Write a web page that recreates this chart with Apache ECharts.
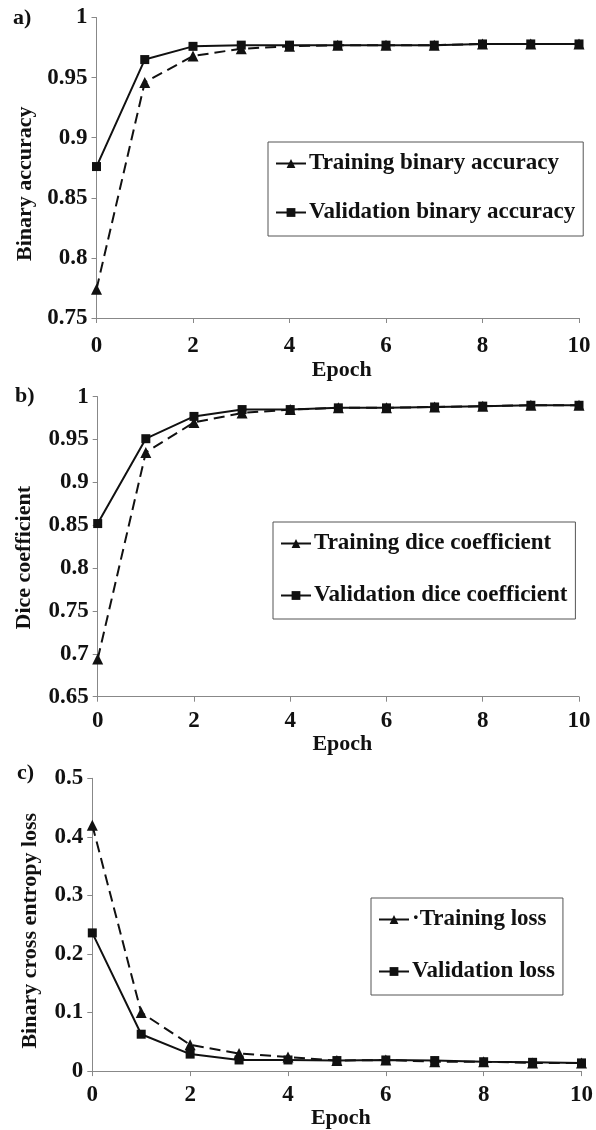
<!DOCTYPE html>
<html>
<head>
<meta charset="utf-8">
<script src="https://cdn.jsdelivr.net/npm/echarts@6/dist/echarts.min.js"></script>
<style>
html,body{margin:0;padding:0;background:#fff;}
#chart{width:596px;height:1130px;}
</style>
</head>
<body>
<div id="chart"></div>
<script>
// ---- data ----
var epochs = [0, 1, 2, 3, 4, 5, 6, 7, 8, 9, 10];
var accTrain = [0.774, 0.946, 0.968, 0.974, 0.976, 0.977, 0.977, 0.977, 0.978, 0.978, 0.978];
var accVal   = [0.876, 0.965, 0.976, 0.977, 0.977, 0.977, 0.977, 0.977, 0.978, 0.978, 0.978];
var diceTrain = [0.694, 0.935, 0.970, 0.981, 0.985, 0.987, 0.987, 0.988, 0.989, 0.990, 0.990];
var diceVal   = [0.852, 0.951, 0.977, 0.985, 0.985, 0.987, 0.987, 0.988, 0.989, 0.990, 0.990];
var lossTrain = [0.420, 0.100, 0.045, 0.030, 0.024, 0.018, 0.019, 0.016, 0.016, 0.014, 0.014];
var lossVal   = [0.236, 0.063, 0.029, 0.019, 0.019, 0.018, 0.019, 0.018, 0.016, 0.015, 0.014];

var seriesNames = {
  a: ['Training binary accuracy', 'Validation binary accuracy'],
  b: ['Training dice coefficient', 'Validation dice coefficient'],
  c: ['\u00b7Training loss', 'Validation loss']
};
var yNames = ['Binary accuracy', 'Dice coefficient', 'Binary cross entropy loss'];
var xName = 'Epoch';
var panelLabels = ['a)', 'b)', 'c)'];

function pairs(ys) { return epochs.map(function (e, i) { return [e, ys[i]]; }); }

var FONT = "'Liberation Serif', 'Times New Roman', serif";
var INK = '#111';

var grids = [
  {left: 96.5, top: 17.5, width: 482.5, height: 300.5},
  {left: 97.7, top: 396.7, width: 481.3, height: 300},
  {left: 92.3, top: 778.3, width: 489.4, height: 295.7}
];
var yRanges = [[0.75, 1, 0.05], [0.65, 1, 0.05], [0, 0.5, 0.1]];
var yNameGaps = [59, 62, 51];
var yNameShift = [32, 22, 12];
var xLabelMargins = [17, 13, 12];
var xNameGaps = [25, 29, 28];

var xAxes = [], yAxes = [];
for (var i = 0; i < 3; i++) {
  xAxes.push({
    type: 'value', gridIndex: i, min: 0, max: 10, interval: 2,
    name: xName, nameLocation: 'middle', nameGap: xNameGaps[i],
    nameTextStyle: {fontFamily: FONT, fontWeight: 'bold', fontSize: 22, color: INK, padding: [0, 0, 0, 8]},
    axisLine: {show: true, lineStyle: {color: '#888', width: 1}},
    axisTick: {show: true, inside: false, length: 5, lineStyle: {color: '#888'}},
    axisLabel: {fontFamily: FONT, fontWeight: 'bold', fontSize: 23, color: INK, margin: xLabelMargins[i]},
    splitLine: {show: false}
  });
  yAxes.push({
    type: 'value', gridIndex: i, min: yRanges[i][0], max: yRanges[i][1], interval: yRanges[i][2],
    name: yNames[i], nameLocation: 'middle', nameGap: yNameGaps[i],
    nameTextStyle: {fontFamily: FONT, fontWeight: 'bold', fontSize: 22, color: INK, padding: [0, yNameShift[i], 0, 0]},
    axisLine: {show: true, onZero: false, lineStyle: {color: '#888', width: 1}},
    axisTick: {show: true, inside: false, length: 5, lineStyle: {color: '#888'}},
    axisLabel: {fontFamily: FONT, fontWeight: 'bold', fontSize: 23, color: INK, margin: 9},
    splitLine: {show: false}
  });
}

var trainData = [accTrain, diceTrain, lossTrain];
var valData = [accVal, diceVal, lossVal];
var keys = ['a', 'b', 'c'];
var series = [];
for (var j = 0; j < 3; j++) {
  series.push({
    name: seriesNames[keys[j]][0], type: 'line', xAxisIndex: j, yAxisIndex: j,
    data: pairs(trainData[j]), symbol: 'triangle', symbolSize: 11,
    lineStyle: {color: INK, width: 2, type: [11, 6]},
    itemStyle: {color: INK}, z: 3, animation: false
  });
  series.push({
    name: seriesNames[keys[j]][1], type: 'line', xAxisIndex: j, yAxisIndex: j,
    data: pairs(valData[j]), symbol: 'rect', symbolSize: 9,
    lineStyle: {color: INK, width: 2, type: 'solid'},
    itemStyle: {color: INK}, z: 2, animation: false
  });
}

var legendPos = [
  {left: 268, top: 142, itemGap: 26},
  {left: 273, top: 522, itemGap: 29},
  {left: 371, top: 898, itemGap: 29}
];
var legends = [];
for (var k = 0; k < 3; k++) {
  legends.push({
    left: legendPos[k].left, top: legendPos[k].top, orient: 'vertical',
    data: seriesNames[keys[k]],
    itemGap: legendPos[k].itemGap, itemWidth: 30, itemHeight: 11,
    padding: [10, 8, 12, 7],
    borderColor: '#555', borderWidth: 1, backgroundColor: '#fff',
    lineStyle: {type: 'solid'},
    selectedMode: false,
    textStyle: {fontFamily: FONT, fontWeight: 'bold', fontSize: 23, color: INK, padding: [0, 0, 0, -2]}
  });
}

var labelPos = [[13, 7], [15, 385], [17, 762]];
var graphics = panelLabels.map(function (t, i) {
  return {type: 'text', left: labelPos[i][0], top: labelPos[i][1],
    style: {text: t, font: 'bold 22px ' + FONT, fill: INK}};
});

var chart = echarts.init(document.getElementById('chart'), null, {renderer: 'canvas'});
chart.setOption({
  backgroundColor: '#fff',
  animation: false,
  grid: grids,
  xAxis: xAxes,
  yAxis: yAxes,
  legend: legends,
  series: series,
  graphic: graphics
});
</script>
</body>
</html>
